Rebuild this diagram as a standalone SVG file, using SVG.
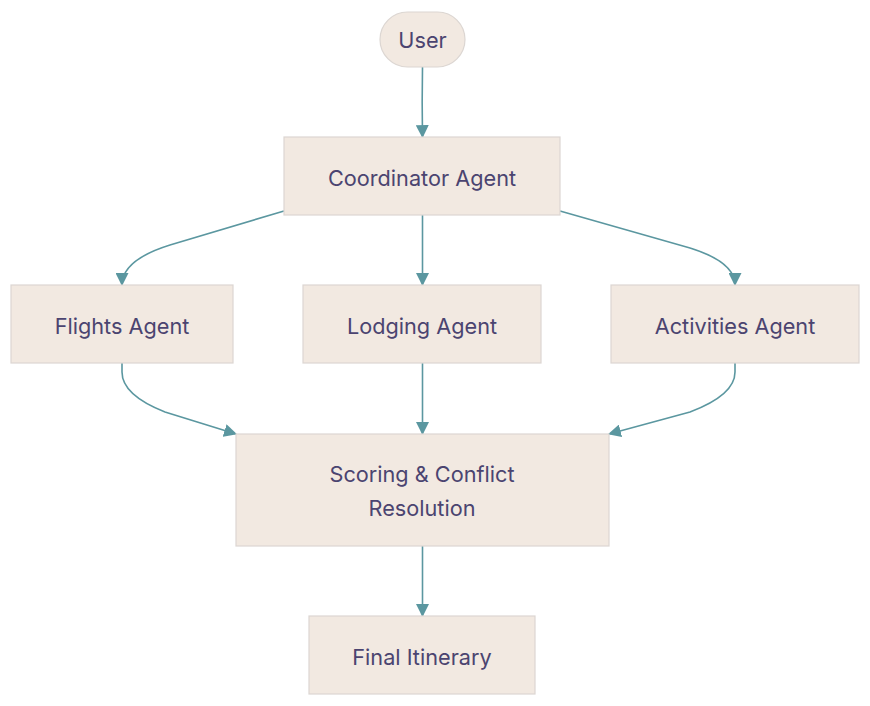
<svg xmlns="http://www.w3.org/2000/svg" width="870" height="706" viewBox="0 0 870 706">
<style>
.node rect{fill:#f2e9e1;stroke:#dcd6d2;stroke-width:1.2}
.node text{font-family:Inter,"Noto Sans",sans-serif;font-size:21.7px;fill:#4b4470;text-anchor:middle;dominant-baseline:central}
.edge{fill:none;stroke:#5b97a0;stroke-width:1.6;marker-end:url(#arr)}
</style>
<defs>
<marker id="arr" viewBox="0 0 12 12" refX="11" refY="6" markerWidth="13" markerHeight="13" markerUnits="userSpaceOnUse" orient="auto">
<path d="M0,0 L12,6 L0,12 Z" fill="#5b97a0"/>
</marker>
</defs>
<rect width="870" height="706" fill="#ffffff"/>
<g id="connectors">
<path class="edge" d="M422.5,67 C422,95 422,110 422.5,137"/>
<path class="edge" d="M284,211 L170,245 Q122,260 122,285"/>
<path class="edge" d="M422.5,215 L422.5,285"/>
<path class="edge" d="M560,211 L690,248 Q735,262 735,285"/>
<path class="edge" d="M122,363 L122,372 Q122,395 165,412 L236,434"/>
<path class="edge" d="M422.5,363 L422.5,434"/>
<path class="edge" d="M735,363 L735,372 Q735,395 690,412 L609,434"/>
<path class="edge" d="M422.5,546 L422.5,616"/>
</g>
<g id="user" class="node"><rect x="380" y="12" width="85" height="55" rx="27.5" ry="27.5"/><text x="422.5" y="40">User</text></g>
<g id="coordinator" class="node"><rect x="284" y="137" width="276" height="78"/><text x="422" y="178">Coordinator Agent</text></g>
<g id="flights" class="node"><rect x="11" y="285" width="222" height="78"/><text x="122" y="326">Flights Agent</text></g>
<g id="lodging" class="node"><rect x="303" y="285" width="238" height="78"/><text x="422" y="326">Lodging Agent</text></g>
<g id="activities" class="node"><rect x="611" y="285" width="248" height="78"/><text x="735" y="326">Activities Agent</text></g>
<g id="scoring" class="node"><rect x="236" y="434" width="373" height="112"/><text x="422" y="474">Scoring &amp; Conflict</text><text x="422" y="508">Resolution</text></g>
<g id="final" class="node"><rect x="309" y="616" width="226" height="78"/><text x="422" y="657">Final Itinerary</text></g>
</svg>
